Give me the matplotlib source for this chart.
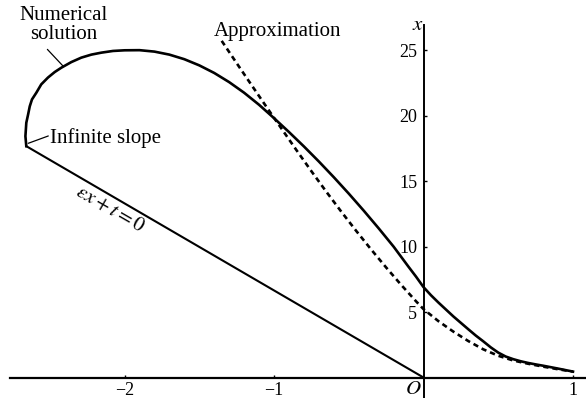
import matplotlib.pyplot as plt

plt.rcParams['font.family'] = ['Liberation Serif', 'DejaVu Serif']
plt.rcParams['mathtext.fontset'] = 'stix'

# solucion numerica (t, x)
t_num = [-2.657, -2.663, -2.657, -2.645, -2.634, -2.619, -2.590, -2.557, -2.512,
         -2.467, -2.423, -2.356, -2.289, -2.222, -2.155, -2.077, -1.999, -1.900,
         -1.800, -1.700, -1.600, -1.500, -1.400, -1.300, -1.200, -1.100, -1.000,
         -0.900, -0.800, -0.700, -0.600, -0.500, -0.400, -0.300, -0.200, -0.100,
         -0.050, 0.000, 0.050, 0.100, 0.200, 0.300, 0.350, 0.400, 0.450,
         0.500, 0.550, 0.600, 0.650, 0.700, 0.750, 0.800, 0.900, 1.000]
x_num = [17.66, 18.42, 19.45, 20.08, 20.70, 21.23, 21.74, 22.38, 22.90,
         23.32, 23.65, 24.08, 24.42, 24.65, 24.80, 24.93, 24.98, 24.99,
         24.88, 24.65, 24.30, 23.83, 23.25, 22.55, 21.74, 20.82, 19.80,
         18.74, 17.64, 16.49, 15.29, 14.04, 12.74, 11.39, 9.99, 8.45,
         7.70, 6.90, 6.28, 5.72, 4.66, 3.68, 3.20, 2.76, 2.30,
         1.90, 1.60, 1.40, 1.24, 1.11, 1.00, 0.90, 0.68, 0.45]

# aproximacion
t_apx = [-1.35, -1.25, -1.15, -1.05, -0.95, -0.85, -0.75, -0.65, -0.55, -0.45,
         -0.35, -0.25, -0.15, -0.05, 0.00, 0.10, 0.20, 0.30, 0.40, 0.50,
         0.60, 0.70, 0.80, 0.90, 1.00]
x_apx = [25.70, 24.00, 22.32, 20.65, 19.00, 17.36, 15.75, 14.18, 12.66, 11.19,
         9.77, 8.40, 7.08, 5.82, 5.22, 4.30, 3.50, 2.78, 2.15, 1.66,
         1.30, 1.05, 0.83, 0.63, 0.45]

# recta eps*x + t = 0
t_lin = [-2.657, 0.0]
x_lin = [17.66, 0.0]

xticks = [-2, -1, 1]
yticks = [5, 10, 15, 20, 25]

fig = plt.figure(figsize=(5.86, 3.98), dpi=100)
ax = fig.add_axes([0, 0, 1, 1])
ax.set_xlim(-2.833, 1.087)
ax.set_ylim(-1.565, 28.82)

ax.plot(t_num, x_num, color='black', lw=1.9, solid_joinstyle='round')
ax.plot(t_apx, x_apx, color='black', lw=1.9, ls=(0, (2.0, 1.5)),
        dash_joinstyle='round')
ax.plot(t_lin, x_lin, color='black', lw=1.5)

for s in ['top', 'right']:
    ax.spines[s].set_visible(False)
ax.spines['left'].set_position(('data', 0))
ax.spines['bottom'].set_position(('data', 0))
ax.spines['left'].set_bounds(-1.565, 26.9)
ax.spines['bottom'].set_bounds(-2.766, 1.087)
ax.spines['left'].set_linewidth(1.4)
ax.spines['bottom'].set_linewidth(1.6)

ax.set_xticks(xticks)
ax.set_xticklabels(['\u22122', '\u22121', '1'])
ax.set_yticks(yticks)
ax.tick_params(direction='in', length=2.5, width=1, labelsize=13, pad=3)
ax.tick_params(axis='y', pad=4.5)

ax.text(-0.04, 26.9, '$x$', fontsize=15, ha='center', va='center')
ax.text(-0.07, -0.95, '$O$', fontsize=15, ha='center', va='center')

ax.text(-2.405, 28.4, 'Numerical\nsolution', fontsize=15, ha='center', va='top',
        multialignment='center', linespacing=1.0)
ax.annotate('', xy=(-2.409, 23.75), xytext=(-2.516, 25.05),
            arrowprops=dict(arrowstyle='-', lw=0.9, shrinkA=0, shrinkB=0))
ax.text(-2.498, 17.92, 'Infinite slope', fontsize=15, ha='left', va='baseline')
ax.annotate('', xy=(-2.644, 17.88), xytext=(-2.51, 18.44),
            arrowprops=dict(arrowstyle='-', lw=0.9, shrinkA=0, shrinkB=0))
ax.text(-1.4, 26.07, 'Approximation', fontsize=15, ha='left', va='baseline')
ax.text(-2.097, 12.79, r'$\varepsilon x+t=0$', fontsize=15,
        ha='center', va='center', rotation=-30, rotation_mode='anchor')

fig.savefig('out.png', dpi=100)
